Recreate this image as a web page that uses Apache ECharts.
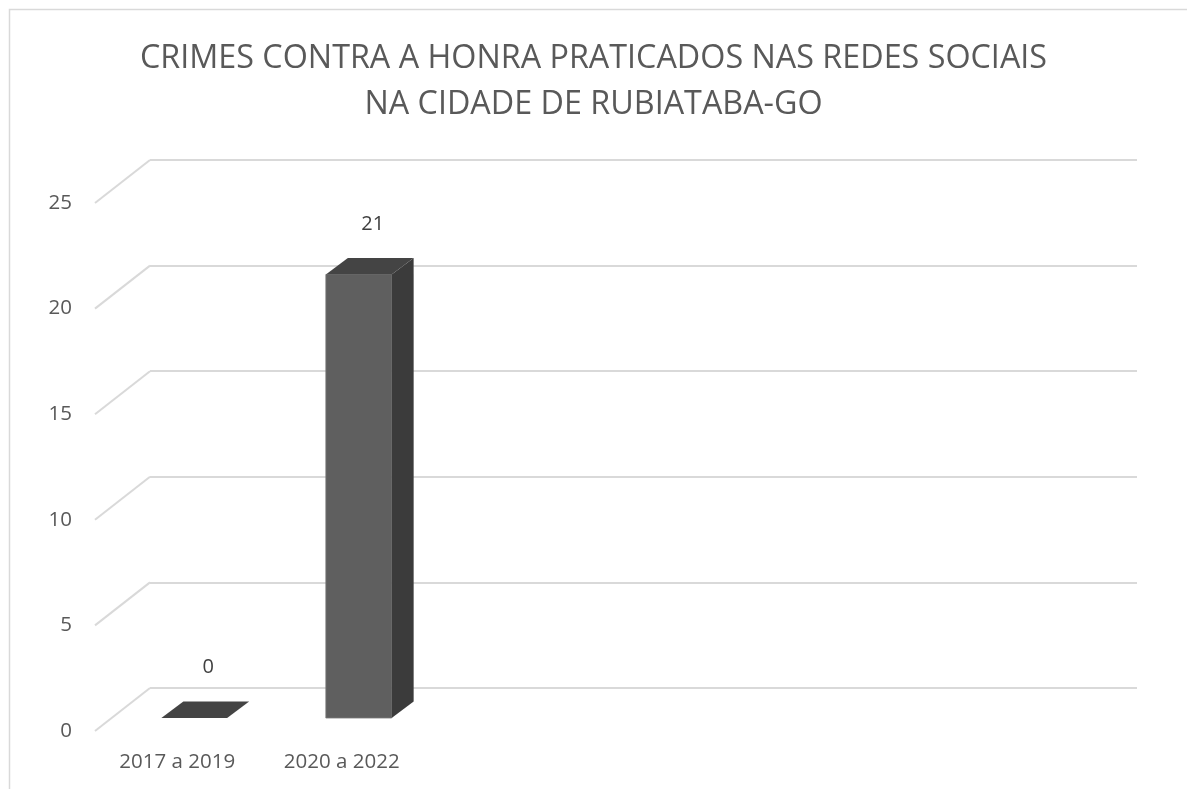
<!DOCTYPE html>
<html>
<head>
<meta charset="utf-8">
<script src="https://cdn.jsdelivr.net/npm/echarts@6/dist/echarts.min.js"></script>
<style>
html,body{margin:0;padding:0;background:#fff;}
#main{width:1187px;height:789px;}
</style>
</head>
<body>
<div id="main"></div>
<script>
const titleText = "CRIMES CONTRA A HONRA PRATICADOS NAS REDES SOCIAIS\nNA CIDADE DE RUBIATABA-GO";
const categories = ["2017 a 2019", "2020 a 2022", "", "", "", ""];
const values = [0, 21, null, null, null, null];
const yTicks = [0, 5, 10, 15, 20, 25];

const FONT = "Open Sans";
const TEXT = "#595959";
const WALL_DX = -55, WALL_DY = 43;   // back wall -> front plane
const BAR_DX = 22, BAR_DY = -16.5;   // bar depth
const GW = 987, GH = 528;

const chart = echarts.init(document.getElementById('main'), null, {renderer: 'canvas'});

function xAx(gi, show) {
  return {
    type: 'category', gridIndex: gi, data: categories,
    axisLine: {show: false}, axisTick: {show: false},
    axisLabel: {show: show, interval: 0, margin: 21, color: TEXT, fontSize: 20.5, fontFamily: FONT},
    splitLine: {show: false}
  };
}
function yAx(gi, showLabel, showSplit) {
  return {
    type: 'value', gridIndex: gi, min: 0, max: 25, interval: 5,
    axisLine: {show: false}, axisTick: {show: false},
    axisLabel: {show: showLabel, margin: 23, color: TEXT, fontSize: 20.5, fontFamily: FONT},
    splitLine: {show: showSplit, lineStyle: {color: '#d9d9d9', width: 2}}
  };
}

const option = {
  animation: false,
  backgroundColor: '#ffffff',
  title: {
    text: titleText, left: 'center', top: 31,
    textStyle: {fontFamily: FONT, fontSize: 32.3, fontWeight: 'normal', color: TEXT, lineHeight: 46}
  },
  graphic: [{
    type: 'rect', shape: {x: 9.5, y: 9.5, width: 1400, height: 1000},
    style: {fill: null, stroke: '#d9d9d9', lineWidth: 1.5}, silent: true, z: -10
  }],
  grid: [
    {left: 150, top: 160, width: GW, height: GH},
    {left: 112, top: 190, width: GW, height: GH},
    {left: 95, top: 203, width: GW, height: GH}
  ],
  xAxis: [xAx(0, false), xAx(1, false), xAx(2, true)],
  yAxis: [yAx(0, false, true), yAx(1, false, false), yAx(2, true, false)],
  series: [
    {
      type: 'custom', xAxisIndex: 0, yAxisIndex: 0, silent: true,
      data: yTicks.map(v => [0, v]),
      renderItem: function (params, api) {
        const p = api.coord([0, api.value(1)]);
        const left = p[0] - api.size([1, 0])[0] / 2;
        return {
          type: 'line',
          shape: {x1: left, y1: p[1], x2: left + WALL_DX, y2: p[1] + WALL_DY},
          style: {stroke: '#d9d9d9', lineWidth: 2}
        };
      }
    },
    {
      type: 'custom', xAxisIndex: 1, yAxisIndex: 1, silent: true,
      data: values.map((v, i) => [i, v]),
      renderItem: function (params, api) {
        const v = api.value(1);
        if (v === null || v === undefined || isNaN(v)) return null;
        const i = api.value(0);
        const top = api.coord([i, v]);
        const base = api.coord([i, 0]);
        const w = api.size([1, 0])[0] * 0.4;
        const x0 = top[0] - w / 2, x1 = top[0] + w / 2;
        const yT = top[1], yB = base[1];
        const children = [];
        if (yB - yT > 0.5) {
          children.push({type: 'rect', shape: {x: x0, y: yT, width: w, height: yB - yT},
            style: {fill: '#5f5f5f', stroke: '#7a7a7a', lineWidth: 0.8}});
          children.push({type: 'polygon', shape: {points: [[x1, yT], [x1 + BAR_DX, yT + BAR_DY], [x1 + BAR_DX, yB + BAR_DY], [x1, yB]]},
            style: {fill: '#3b3b3b'}});
        }
        children.push({type: 'polygon', shape: {points: [[x0, yT], [x1, yT], [x1 + BAR_DX, yT + BAR_DY], [x0 + BAR_DX, yT + BAR_DY]]},
          style: {fill: '#444444'}});
        children.push({type: 'text', x: top[0] + BAR_DX / 2 + 3, y: yT + BAR_DY / 2 - 42,
          style: {text: String(v), fill: '#404040', font: '20px "Open Sans"', textAlign: 'center', textVerticalAlign: 'middle'}});
        return {type: 'group', children: children};
      }
    }
  ]
};
chart.setOption(option);
</script>
</body>
</html>
